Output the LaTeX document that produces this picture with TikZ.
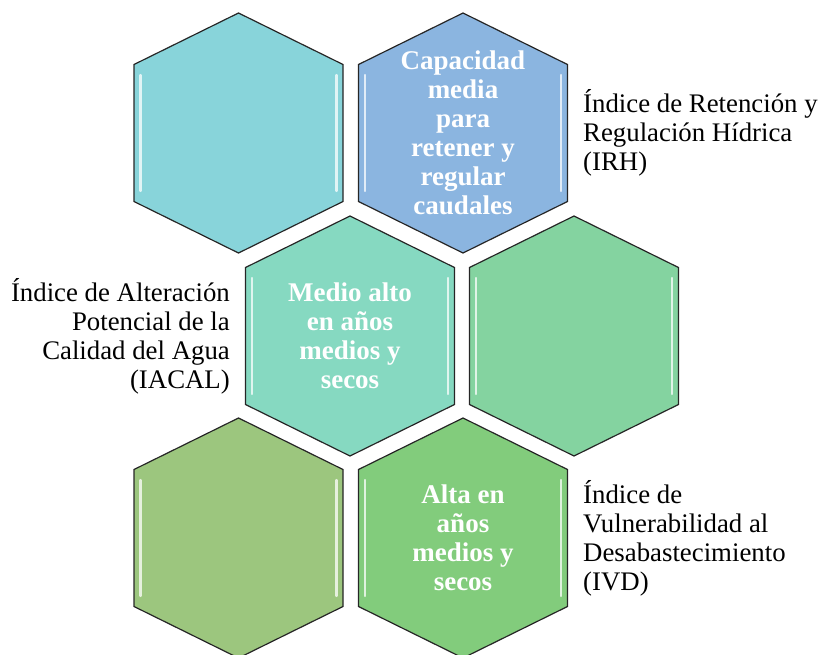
\documentclass[tikz,border=0pt]{standalone}
\usepackage{fontspec}
\setmainfont{Liberation Serif}
\definecolor{hexA}{HTML}{88D4DA}
\definecolor{hexB}{HTML}{8BB5E0}
\definecolor{hexC}{HTML}{86D9C1}
\definecolor{hexD}{HTML}{84D3A0}
\definecolor{hexE}{HTML}{9CC67E}
\definecolor{hexF}{HTML}{82CC7C}
\newcommand\hexcell[3]{%
  \filldraw[hexline,fill=#3] (#1,#2-120) -- (#1+104.5,#2-68.5) -- (#1+104.5,#2+68.5) -- (#1,#2+120) -- (#1-104.5,#2+68.5) -- (#1-104.5,#2-68.5) -- cycle;
  \draw[hlight] (#1-98,#2-58) -- (#1-98,#2+58);
  \draw[hlight] (#1+98,#2-58) -- (#1+98,#2+58);
}
\begin{document}
\begin{tikzpicture}[x=1pt,y=-1pt,
  hexline/.style={draw=black!85,line width=1.2pt,line join=miter},
  hlight/.style={white,line width=2.2pt,opacity=0.75,line cap=round},
  intext/.style={text=white,font=\fontsize{27}{29}\selectfont\bfseries,align=center,inner sep=0pt},
  outtext/.style={text=black,font=\fontsize{26.8}{29}\selectfont,inner sep=0pt}]
\useasboundingbox (0,0) rectangle (820,654);
\hexcell{238.5}{133}{hexA}
\hexcell{463}{133}{hexB}
\hexcell{350}{336}{hexC}
\hexcell{574}{336}{hexD}
\hexcell{238.5}{538}{hexE}
\hexcell{463}{538}{hexF}
\node[intext] (tb) at (463,133) {Capacidad\\media\\para\\retener y\\regular\\caudales};
\node[intext] (tc) at (350,336) {Medio alto\\en años\\medios y\\secos};
\node[intext] (tf) at (463,538) {Alta en\\años\\medios y\\secos};
\node[outtext,anchor=west,align=left] (irh) at (583,133) {Índice de Retención y\\Regulación Hídrica\\(IRH)};
\node[outtext,anchor=east,align=right] (iacal) at (230,336) {Índice de Alteración\\Potencial de la\\Calidad del Agua\\(IACAL)};
\node[outtext,anchor=west,align=left] (ivd) at (583,538) {Índice de\\Vulnerabilidad al\\Desabastecimiento\\(IVD)};
\end{tikzpicture}
\end{document}
